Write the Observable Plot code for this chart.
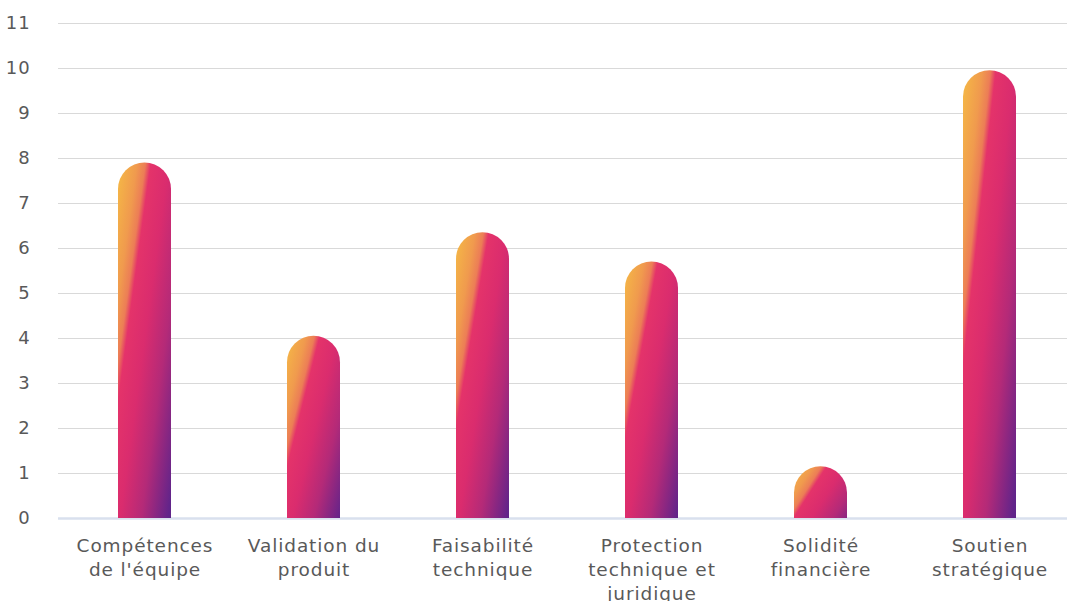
<!DOCTYPE html>
<html>
<head>
<meta charset="utf-8">
<script src="https://cdn.jsdelivr.net/npm/d3@7"></script>
<script src="https://cdn.jsdelivr.net/npm/@observablehq/plot@0.6"></script>
<style>
  html, body { margin: 0; padding: 0; background: #ffffff; }
  #chart { width: 1067px; height: 601px; overflow: hidden; }
  #chart text { letter-spacing: 0.9px; }
</style>
</head>
<body>
<div id="chart"></div>
<script>
const categories = [
  "Compétences\nde l'équipe",
  "Validation du\nproduit",
  "Faisabilité\ntechnique",
  "Protection\ntechnique et\njuridique",
  "Solidité\nfinancière",
  "Soutien\nstratégique"
];
const values = [7.9, 4.05, 6.35, 5.7, 1.15, 9.95];
const yTicks = [0, 1, 2, 3, 4, 5, 6, 7, 8, 9, 10, 11];

const data = categories.map((c, i) => ({category: c, value: values[i]}));

const W = 1067, H = 601;
const barRadiusPx = 26.5;
const pxPerUnit = (518 - 23) / 11;
const rUnits = barRadiusPx / pxPerUnit;

function defs() {
  const ns = "http://www.w3.org/2000/svg";
  const d = document.createElementNS(ns, "defs");
  const g = document.createElementNS(ns, "linearGradient");
  g.setAttribute("id", "barGrad");
  g.setAttribute("x1", "0"); g.setAttribute("y1", "0");
  g.setAttribute("x2", "1"); g.setAttribute("y2", "1");
  const stops = [
    [0, "#F5BA45"],
    [0.18, "#F09A4E"],
    [0.26, "#EC7D56"],
    [0.31, "#E4336A"],
    [0.48, "#DA2C6E"],
    [0.68, "#B42A78"],
    [0.93, "#62248A"],
    [1, "#5A2489"]
  ];
  for (const [o, c] of stops) {
    const s = document.createElementNS(ns, "stop");
    s.setAttribute("offset", o);
    s.setAttribute("stop-color", c);
    g.appendChild(s);
  }
  d.appendChild(g);
  return d;
}

const chart = Plot.plot({
  width: W,
  height: H,
  marginLeft: 58,
  marginRight: 0,
  marginTop: 23,
  marginBottom: 83,
  style: {fontFamily: "'DejaVu Sans', sans-serif", fontSize: "18px", color: "#595959", background: "#ffffff"},
  x: {domain: categories, range: [0.4, 1134.4], padding: 0.6875, label: null},
  y: {domain: [0, 11], label: null},
  marks: [
    defs,
    Plot.ruleY(yTicks.filter(t => t > 0), {stroke: "#d9d9d9", strokeWidth: 1.2}),
    Plot.ruleY([0], {stroke: "#d9e0ee", strokeWidth: 2.5}),
    Plot.rectY(data, {
      x: "category",
      y1: d => -rUnits - 0.1,
      y2: "value",
      fill: "url(#barGrad)",
      rx: barRadiusPx,
      ry: barRadiusPx,
      clip: true
    }),
    Plot.axisY(yTicks, {tickSize: 0, tickPadding: 28, fill: "#595959", fontSize: 18, label: null}),
    Plot.axisX({tickSize: 0, tickPadding: 16, fill: "#595959", fontSize: 18.5, lineHeight: 1.3, label: null})
  ]
});

document.getElementById("chart").appendChild(chart);
</script>
</body>
</html>
